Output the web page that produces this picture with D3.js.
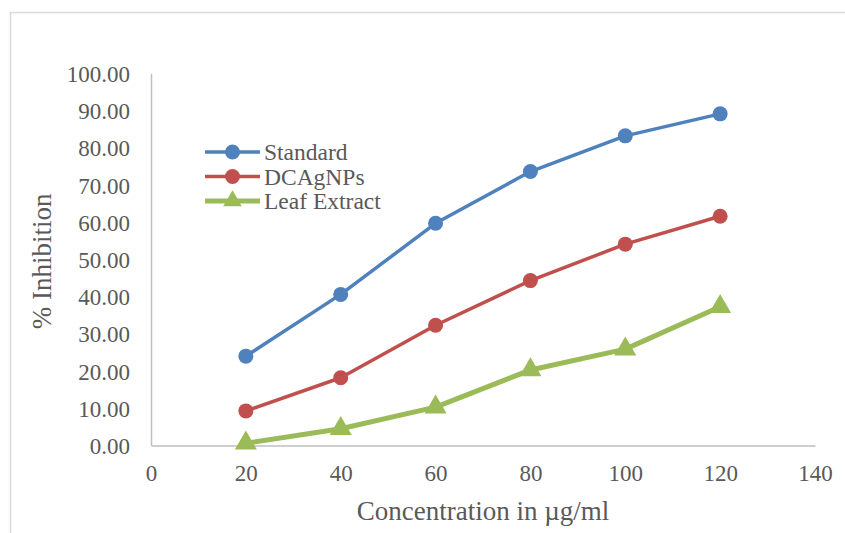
<!DOCTYPE html>
<html>
<head>
<meta charset="utf-8">
<script src="https://cdn.jsdelivr.net/npm/d3@7"></script>
<style>
  html, body { margin: 0; padding: 0; background: #fff; }
  svg { display: block; font-family: "Liberation Serif", "Times New Roman", serif; }
</style>
</head>
<body>
<div id="chart"></div>
<script>
const concentrations = [20, 40, 60, 80, 100, 120];
const standard = [24.0, 40.6, 59.7, 73.6, 83.2, 89.1];
const dcagnps = [9.3, 18.2, 32.3, 44.3, 54.1, 61.6];
const leafExtract = [0.6, 4.5, 10.3, 20.3, 25.9, 37.3];
const xTicks = [0, 20, 40, 60, 80, 100, 120, 140];
const yTicks = [0, 10, 20, 30, 40, 50, 60, 70, 80, 90, 100];

const series = [
  { name: 'Standard', values: standard, color: '#4F81BD', width: 3.5, marker: 'circle' },
  { name: 'DCAgNPs', values: dcagnps, color: '#C0504D', width: 3.5, marker: 'circle' },
  { name: 'Leaf Extract', values: leafExtract, color: '#9BBB59', width: 5, marker: 'triangle' },
];

const W = 845, H = 533;
const svg = d3.select('#chart').append('svg').attr('width', W).attr('height', H);

// chart frame
svg.append('path').attr('d', `M10.5,${H} V12.5 H${W}`)
  .attr('fill', 'none').attr('stroke', '#D9D9D9').attr('stroke-width', 1.5);

const x = d3.scaleLinear().domain([0, 140]).range([151, 815]);
const y = d3.scaleLinear().domain([0, 100]).range([445.5, 73.3]);

// axes
const gx = svg.append('g').attr('transform', `translate(0,${y(0)})`)
  .call(d3.axisBottom(x).tickValues(xTicks).tickSize(0).tickPadding(30));
const gy = svg.append('g').attr('transform', `translate(${x(0)},0)`)
  .call(d3.axisLeft(y).tickValues(yTicks).tickSize(0).tickPadding(21).tickFormat(d3.format('.2f')));
[gx, gy].forEach(g => {
  g.select('.domain').attr('stroke', '#BFBFBF').attr('stroke-width', 1.5);
  g.selectAll('text').attr('fill', '#595959').style('font-size', '23px')
    .style('font-family', '"Liberation Serif", "Times New Roman", serif');
});
gx.selectAll('text').attr('dy', '0.35em').attr('transform', 'translate(0,-3)');
gy.selectAll('text').attr('dy', '0.35em');

// axis titles
svg.append('text').attr('x', x(70)).attr('y', 520).attr('text-anchor', 'middle')
  .attr('fill', '#595959').style('font-size', '27px').text('Concentration in µg/ml');
svg.append('text').attr('transform', `translate(51,${y(50) + 2}) rotate(-90)`)
  .attr('text-anchor', 'middle').attr('fill', '#595959').style('font-size', '27px').text('% Inhibition');

const line = d3.line().x(d => x(d[0])).y(d => y(d[1]));
const tri = d3.symbol().type(d3.symbolTriangle).size(210);
const triSmall = d3.symbol().type(d3.symbolTriangle).size(150);

function drawMarker(g, s, cx, cy, small) {
  if (s.marker === 'circle') {
    g.append('circle').attr('cx', cx).attr('cy', cy).attr('r', 7.5).attr('fill', s.color);
  } else {
    g.append('path').attr('d', small ? triSmall : tri).attr('transform', `translate(${cx},${cy})`).attr('fill', s.color);
  }
}

series.forEach(s => {
  const pts = concentrations.map((c, i) => [c, s.values[i]]);
  const g = svg.append('g');
  g.append('path').datum(pts).attr('d', line).attr('fill', 'none')
    .attr('stroke', s.color).attr('stroke-width', s.width).attr('stroke-linejoin', 'round');
  pts.forEach(p => drawMarker(g, s, x(p[0]), y(p[1])));
});

// legend
const legend = svg.append('g');
series.forEach((s, i) => {
  const ly = 152 + i * 24.5;
  legend.append('line').attr('x1', 205).attr('x2', 260).attr('y1', ly).attr('y2', ly)
    .attr('stroke', s.color).attr('stroke-width', s.width);
  drawMarker(legend, s, 232.5, ly, true);
  legend.append('text').attr('x', 264).attr('y', ly).attr('dy', '0.35em')
    .attr('fill', '#595959').style('font-size', '23.5px').text(s.name);
});
</script>
</body>
</html>
